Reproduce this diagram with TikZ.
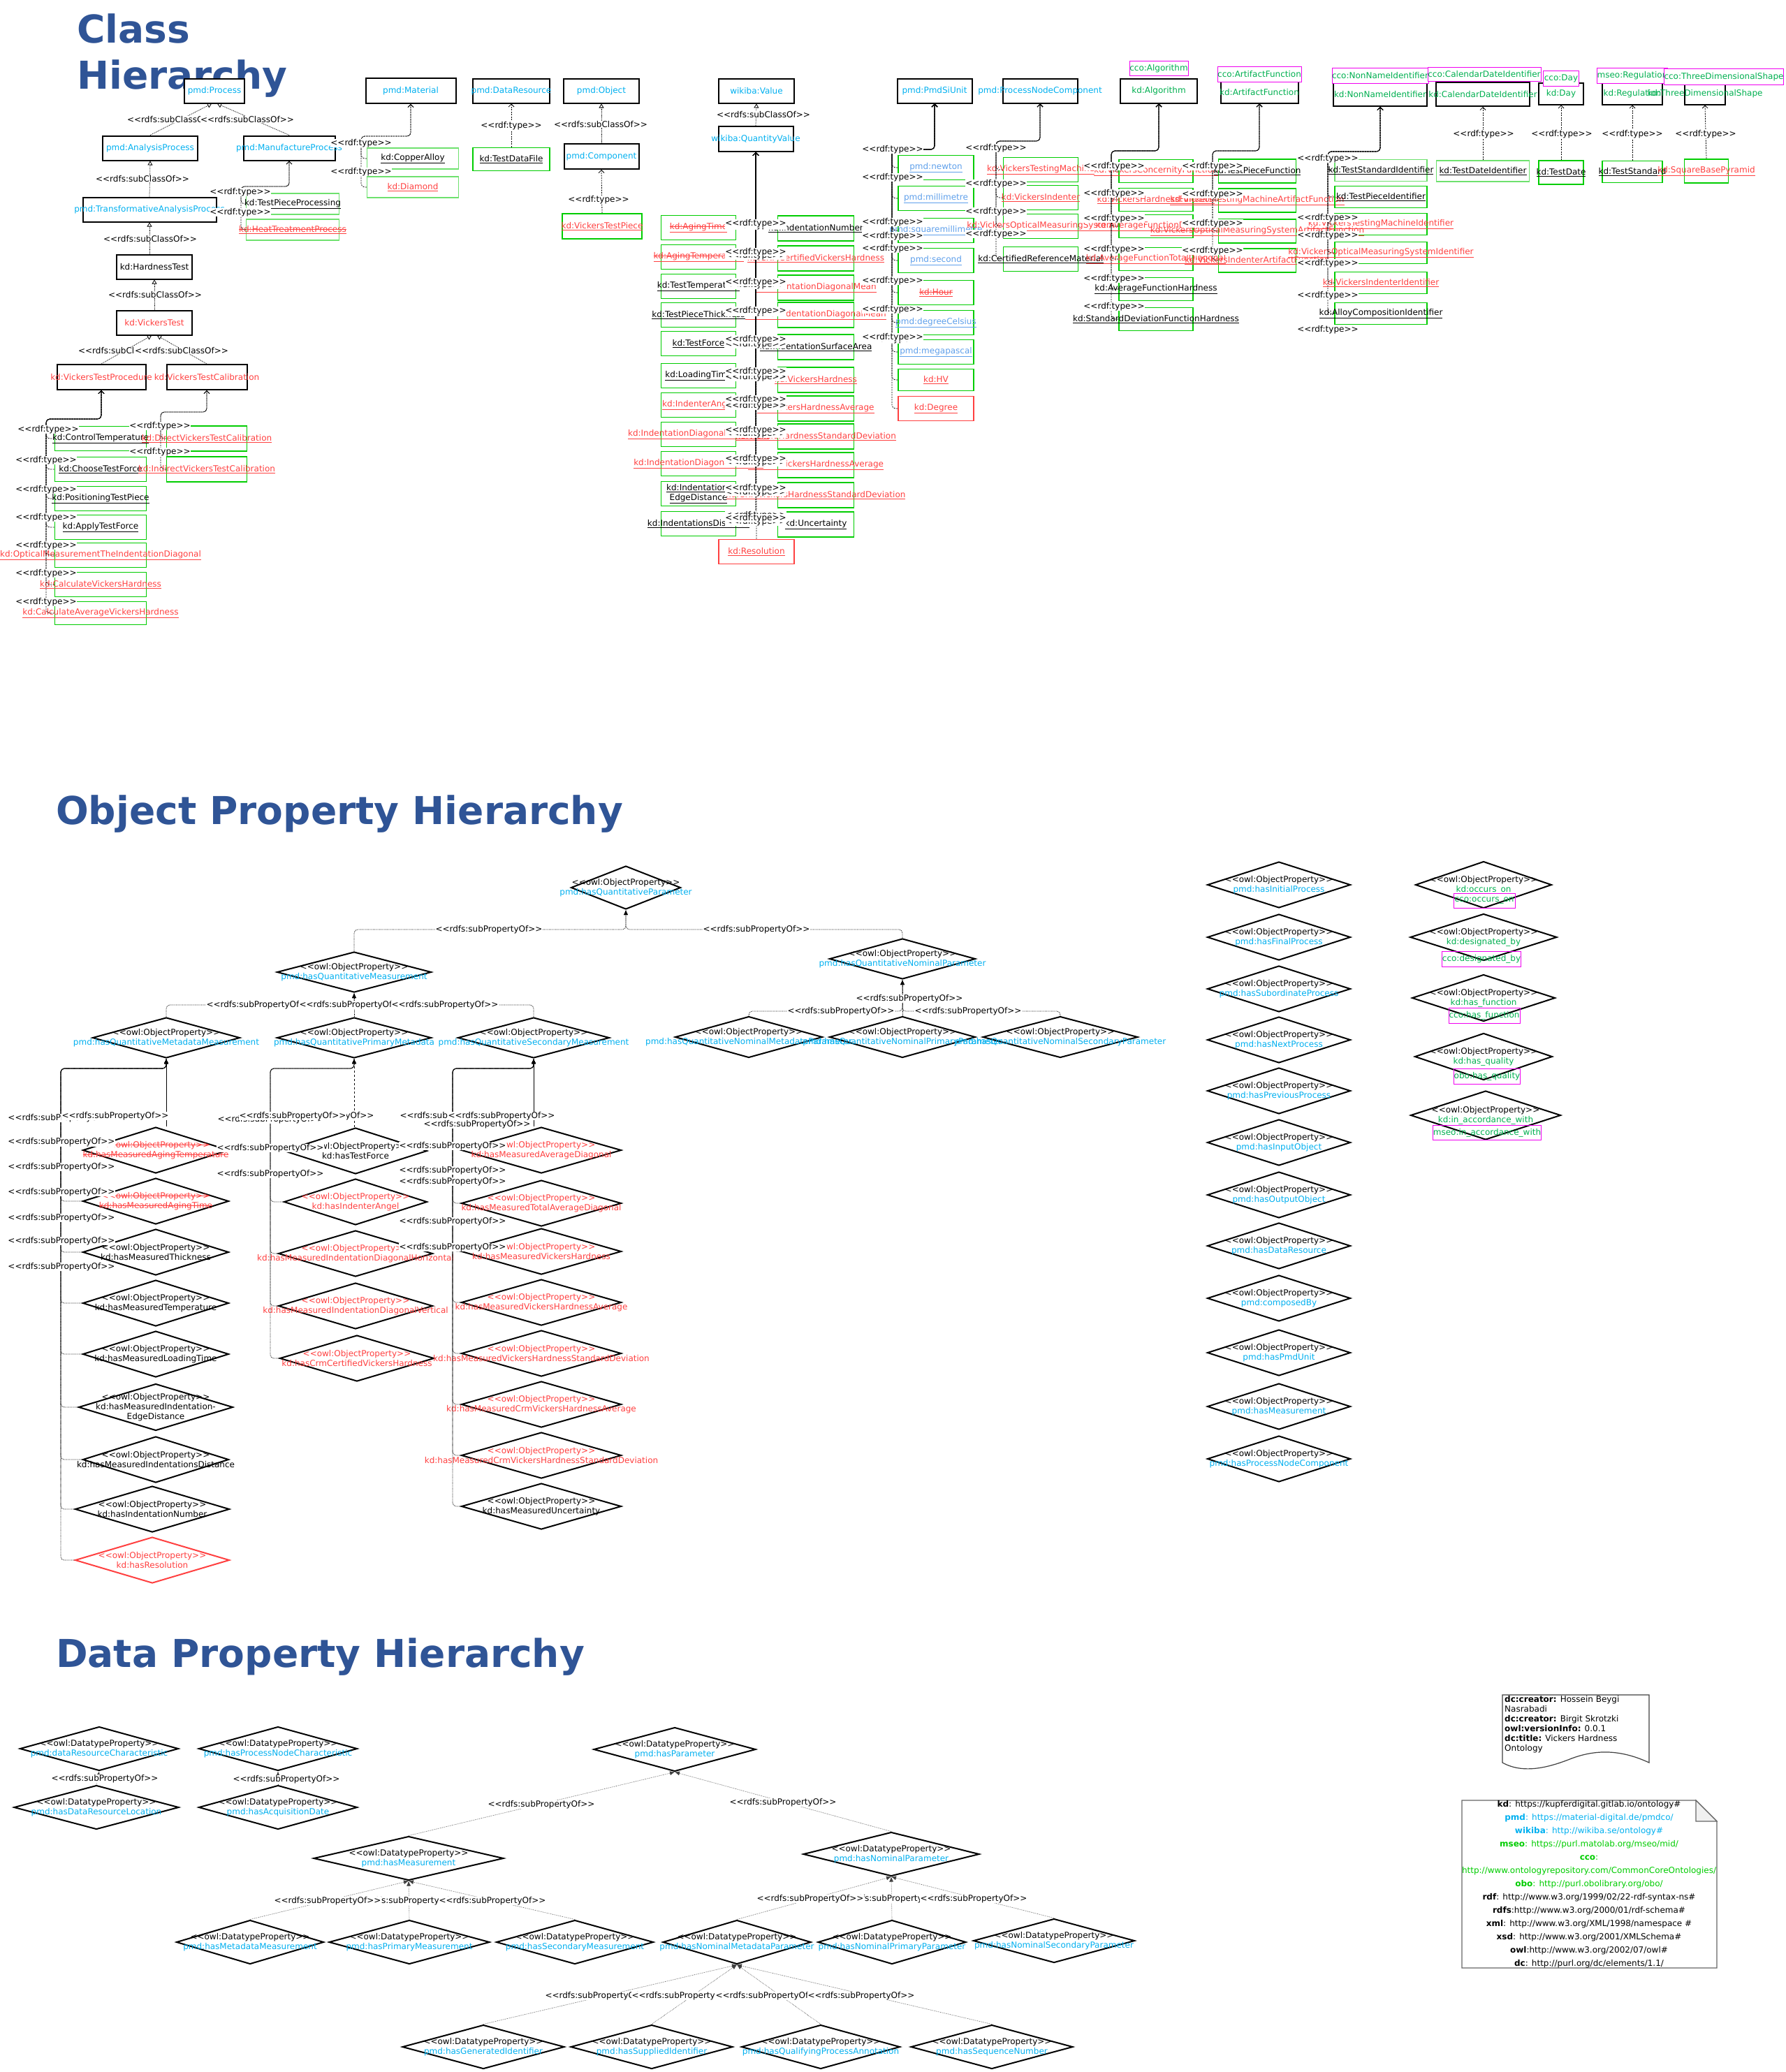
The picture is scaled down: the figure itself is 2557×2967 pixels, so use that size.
\documentclass[tikz,border=0pt]{standalone}
\usepackage{fontspec}
\newfontfamily\dvs{DejaVu Sans}
\usetikzlibrary{arrows.meta,shapes.geometric}
\definecolor{pmdc}{RGB}{0,176,240}
\definecolor{pmdl}{RGB}{95,160,235}
\definecolor{kdr}{RGB}{255,64,64}
\definecolor{grt}{RGB}{0,176,80}
\definecolor{grb}{RGB}{0,205,0}
\definecolor{grl}{RGB}{110,225,110}
\definecolor{mag}{RGB}{240,0,240}
\definecolor{ttl}{RGB}{47,84,150}
\newcommand\st[1]{<\kern0pt<#1>\kern0pt>}
\newcommand\stk[1]{\setbox0\hbox{#1}\rlap{\rule[0.28em]{\wd0}{0.8pt}}\box0}
\newcommand\und[1]{\underline{#1}}
\newcommand\txR[1]{\textcolor{kdr}{#1}}
\newcommand\txC[1]{\textcolor{pmdc}{#1}}
\newcommand\txL[1]{\textcolor{pmdl}{#1}}
\newcommand\txG[1]{\textcolor{grt}{#1}}
\tikzset{
 txt/.style={inner sep=0pt, align=center, font=\dvs\fontsize{12}{14}\selectfont},
 lab/.style={fill=white, inner sep=0.6pt, font=\dvs\fontsize{12}{14}\selectfont},
 cls/.style={draw=black, line width=2pt, fill=white, inner sep=0pt},
 ind/.style={draw=grb, line width=1.8pt, inner sep=0pt},
 indl/.style={draw=grl, line width=1.2pt, inner sep=0pt},
 indr/.style={draw=kdr, line width=1.8pt, inner sep=0pt},
 eqv/.style={draw=mag, line width=1pt, fill=white, inner sep=0pt},
 dmd/.style={shape=diamond, draw=black, line width=2pt, inner sep=0pt},
 sub/.style={densely dotted, line width=0.8pt, -{Triangle[open,length=6pt,width=7pt]}},
 typ/.style={dash pattern=on 2pt off 1.5pt, line width=0.8pt, rounded corners=5pt, -{Straight Barb[length=4pt,width=8pt]}},
 spo/.style={densely dotted, line width=0.8pt, rounded corners=5pt, -{Latex[length=7pt,width=6pt]}},
 dpe/.style={densely dotted, line width=0.6pt, draw=black!75, -{Latex[length=7pt,width=6pt]}},
 ttlf/.style={inner sep=0pt, anchor=base west, text=ttl, font=\dvs\bfseries\fontsize{55}{66}\selectfont},
}
\newcommand\cb[7]{\node[#6,minimum width=#4pt,minimum height=#5pt] (#1) at (#2,#3) {};\node[txt] (#1t) at (#1.center) {#7};}
\newcommand\dm[7]{\node[dmd,#6,minimum width=#4pt,minimum height=#5pt] (#1) at (#2,#3) {};\node[txt] (#1t) at (#1.center) {#7};}
\begin{document}
\begin{tikzpicture}[x=1pt,y=-1pt]
\fill[white] (0,0) rectangle (2557,2967);
\useasboundingbox (0,0) rectangle (2557,2967);
% titles
\node[ttlf] (t1) at (110,61) {Class};
\node[ttlf] (t2) at (110,127) {Hierarchy};
\node[ttlf] (t3) at (80,1180) {Object Property Hierarchy};
\node[ttlf] (t4) at (80,2387) {Data Property Hierarchy};
% ---------------- class hierarchy: classes
\cb{p}{307}{130}{86}{35}{cls}{\txC{pmd:Process}}
\cb{ap}{215}{212}{136}{35}{cls}{\txC{pmd:AnalysisProcess}}
\cb{mp}{414}{212}{131}{35}{cls}{\txC{pmd:ManufactureProcess}}
\cb{tap}{214}{300}{191}{35}{cls}{\txC{pmd:TransformativeAnalysisProcess}}
\cb{ht}{221}{382}{108}{35}{cls}{kd:HardnessTest}
\cb{vt}{221}{462}{108}{35}{cls}{\txR{kd:VickersTest}}
\cb{vtp}{145}{540}{127}{36}{cls}{\txR{kd:VickersTestProcedure}}
\cb{vtc}{296}{540}{115}{36}{cls}{\txR{kd:VickersTestCalibration}}
\cb{mat}{588}{130}{129}{36}{cls}{\txC{pmd:Material}}
\cb{dr}{732}{130}{110}{35}{cls}{\txC{pmd:DataResource}}
\cb{obj}{861}{130}{108}{35}{cls}{\txC{pmd:Object}}
\cb{comp}{861}{224}{107}{36}{cls}{\txC{pmd:Component}}
\cb{wv}{1083}{130}{108}{35}{cls}{\txC{wikiba:Value}}
\cb{wq}{1082}{199}{107}{36}{cls}{\txC{wikiba:QuantityValue}}
\cb{psi}{1338}{130}{107}{35}{cls}{\txC{pmd:PmdSiUnit}}
\cb{pnc}{1489}{130}{107}{35}{cls}{\txC{pmd:ProcessNodeComponent}}
\cb{alg}{1659}{130}{110}{35}{cls}{\txG{kd:Algorithm}}
\cb{af}{1803}{132}{111}{31}{cls}{\txG{kd:ArtifactFunction}}
\cb{nni}{1976}{135}{134}{34}{cls}{\txG{kd:NonNameIdentifier}}
\cb{cdi}{2123}{135}{134}{34}{cls}{\txG{kd:CalendarDateIdentifier}}
\cb{day}{2235}{134}{64}{31}{cls}{\txG{kd:Day}}
\cb{reg}{2337}{134}{86}{31}{cls}{\txG{kd:Regulation}}
\cb{tds}{2441}{134}{58}{31}{cls}{\txG{kd:ThreeDimensionalShape}}
\cb{e1}{1659}{98}{84}{21}{eqv}{\txG{cco:Algorithm}}
\cb{e2}{1803}{106}{120}{22}{eqv}{\txG{cco:ArtifactFunction}}
\cb{e3}{1976}{108}{138}{22}{eqv}{\txG{cco:NonNameIdentifier}}
\cb{e4}{2125}{106}{162}{20}{eqv}{\txG{cco:CalendarDateIdentifier}}
\cb{e5}{2235}{112}{51}{22}{eqv}{\txG{cco:Day}}
\cb{e6}{2337}{108}{101}{22}{eqv}{\txG{mseo:Regulation}}
\cb{e7}{2468}{110}{171}{23}{eqv}{\txG{cco:ThreeDimensionalShape}}
% ---------------- individuals
\cb{ca}{591}{227}{131}{30}{indl}{\und{kd:CopperAlloy}}
\cb{dia}{591}{268}{131}{30}{indl}{\txR{\und{kd:Diamond}}}
\cb{tpp}{419}{292}{133}{30}{indl}{\und{kd:TestPieceProcessing}}
\cb{htp}{419}{329}{133}{30}{indl}{\txR{\und{\stk{kd:HeatTreatmentProcess}}}}
\cb{tdf}{732}{228}{110}{33}{ind}{\und{kd:TestDataFile}}
\cb{vtpc}{862}{324}{114}{36}{ind}{\txR{\und{kd:VickersTestPiece}}}
\cb{L1}{1000}{326}{107}{35}{ind}{\txR{\und{\stk{kd:AgingTime}}}}
\cb{L2}{1000}{368}{107}{35}{ind}{\txR{\und{\stk{kd:AgingTemperature}}}}
\cb{L3}{1000}{410}{107}{35}{ind}{\und{kd:TestTemperature}}
\cb{L4}{1000}{451}{107}{35}{ind}{\und{kd:TestPieceThickness}}
\cb{L5}{1000}{492}{107}{35}{ind}{\und{kd:TestForce}}
\cb{L6}{1000}{538}{107}{35}{ind}{\und{kd:LoadingTime}}
\cb{L7}{1000}{580}{107}{35}{ind}{\txR{\und{kd:IndenterAngel}}}
\cb{L8}{1000}{622}{107}{35}{ind}{\txR{\und{kd:IndentationDiagonalHorizontal}}}
\cb{L9}{1000}{664}{107}{35}{ind}{\txR{\und{kd:IndentationDiagonalVertical}}}
\cb{L10}{1000}{707}{107}{35}{ind}{\und{kd:Indentation-}\\\und{EdgeDistance}}
\cb{L11}{1000}{750}{107}{35}{ind}{\und{kd:IndentationsDistance}}
\cb{R1}{1168}{327}{109}{36}{ind}{\und{kd:IndentationNumber}}
\cb{R2}{1168}{370}{109}{36}{ind}{\txR{\und{kd:CRMCertifiedVickersHardness}}}
\cb{R3}{1168}{412}{109}{36}{ind}{\txR{\und{kd:IndentationDiagonalMean}}}
\cb{R4}{1168}{451}{109}{36}{ind}{\txR{\und{kd:TotalIndentationDiagonalMean}}}
\cb{R5}{1168}{497}{109}{36}{ind}{\und{kd:IndentationSurfaceArea}}
\cb{R6}{1168}{544}{109}{36}{ind}{\txR{\und{kd:VickersHardness}}}
\cb{R7}{1168}{585}{109}{36}{ind}{\txR{\und{kd:VickersHardnessAverage}}}
\cb{R8}{1168}{625}{109}{36}{ind}{\txR{\und{kd:VickersHardnessStandardDeviation}}}
\cb{R9}{1168}{666}{109}{36}{ind}{\txR{\und{kd:CRMVickersHardnessAverage}}}
\cb{R10}{1168}{709}{109}{36}{ind}{\txR{\und{kd:CRMVickersHardnessStandardDeviation}}}
\cb{R11}{1168}{751}{109}{36}{ind}{\und{kd:Uncertainty}}
\cb{res}{1083}{790}{108}{35}{indr}{\txR{\und{kd:Resolution}}}
\cb{U1}{1340}{240}{108}{35}{ind}{\txL{\und{pmd:newton}}}
\cb{U2}{1340}{284}{108}{35}{ind}{\txL{\und{pmd:millimetre}}}
\cb{U3}{1340}{330}{108}{35}{ind}{\txL{\und{pmd:squaremillimetre}}}
\cb{U4}{1340}{373}{108}{35}{ind}{\txL{\und{pmd:second}}}
\cb{U5}{1340}{419}{108}{35}{ind}{\txR{\und{\stk{kd:Hour}}}}
\cb{U6}{1340}{462}{108}{35}{ind}{\txL{\und{pmd:degreeCelsius}}}
\cb{U7}{1340}{504}{108}{35}{ind}{\txL{\und{pmd:megapascal}}}
\cb{U8}{1340}{544}{108}{31}{ind}{\txR{\und{kd:HV}}}
\cb{U9}{1340}{585}{108}{35}{indr}{\txR{\und{kd:Degree}}}
\cb{N1}{1490}{243}{107}{35}{ind}{\txR{\und{kd:VickersTestingMachine}}}
\cb{N2}{1490}{283}{107}{35}{ind}{\txR{\und{kd:VickersIndenter}}}
\cb{N3}{1490}{324}{107}{35}{ind}{\txR{\und{kd:VickersOpticalMeasuringSystem}}}
\cb{N4}{1490}{371}{107}{35}{ind}{\und{kd:CertifiedReferenceMaterial}}
\cb{A1}{1655}{245}{106}{33}{ind}{\txR{\und{kd:VickersConcernityFunction}}}
\cb{A2}{1655}{286}{106}{33}{ind}{\txR{\und{kd:VickersHardnessFunction}}}
\cb{A3}{1655}{324}{106}{33}{ind}{\txR{\und{kd:AverageFunctionDiagonal}}}
\cb{A4}{1655}{371}{106}{33}{ind}{\txR{\und{kd:AverageFunctionTotalDiagonal}}}
\cb{A5}{1655}{414}{106}{33}{ind}{\und{kd:AverageFunctionHardness}}
\cb{A6}{1655}{457}{106}{33}{ind}{\und{kd:StandardDeviationFunctionHardness}}
\cb{F1}{1800}{245}{111}{34}{ind}{\und{kd:TestPieceFunction}}
\cb{F2}{1800}{287}{111}{34}{ind}{\txR{\und{kd:VickersTestingMachineArtifactFunction}}}
\cb{F3}{1800}{331}{111}{34}{ind}{\txR{\und{kd:VickersOpticalMeasuringSystemArtifactFunction}}}
\cb{F4}{1800}{373}{111}{34}{ind}{\txR{\und{kd:VickersIndenterArtifactFunction}}}
\cb{I1}{1977}{244}{132}{31}{indl}{\und{kd:TestStandardIdentifier}}
\cb{I2}{1977}{282}{132}{31}{ind}{\und{kd:TestPieceIdentifier}}
\cb{I3}{1977}{321}{132}{31}{ind}{\txR{\und{kd:VickersTestingMachineIdentifier}}}
\cb{I4}{1977}{362}{132}{31}{ind}{\txR{\und{kd:VickersOpticalMeasuringSystemIdentifier}}}
\cb{I5}{1977}{405}{132}{31}{ind}{\txR{\und{kd:VickersIndenterIdentifier}}}
\cb{I6}{1977}{449}{132}{31}{ind}{\und{kd:AlloyCompositionIdentifier}}
\cb{tdi}{2123}{245}{133}{30}{indl}{\und{kd:TestDateIdentifier}}
\cb{td}{2235}{247}{64}{34}{ind}{\und{kd:TestDate}}
\cb{ts}{2337}{246}{86}{31}{ind}{\und{kd:TestStandard}}
\cb{sbp}{2443}{245}{63}{34}{ind}{\txR{\und{kd:SquareBasePyramid}}}
\cb{C1}{144}{628}{131}{35}{ind}{\und{kd:ControlTemperature}}
\cb{C2}{144}{672}{131}{35}{ind}{\und{kd:ChooseTestForce}}
\cb{C3}{144}{714}{131}{35}{ind}{\und{kd:PositioningTestPiece}}
\cb{C4}{144}{755}{131}{35}{ind}{\und{kd:ApplyTestForce}}
\cb{C5}{144}{795}{131}{35}{ind}{\txR{\und{kd:OpticalMeasurementTheIndentationDiagonal}}}
\cb{C6}{144}{837}{131}{35}{ind}{\txR{\und{kd:CalculateVickersHardness}}}
\cb{C7}{144}{878}{131}{33}{ind}{\txR{\und{kd:CalculateAverageVickersHardness}}}
\cb{D1}{296}{628}{115}{36}{ind}{\txR{\und{kd:DirectVickersTestCalibration}}}
\cb{D2}{296}{672}{115}{36}{ind}{\txR{\und{kd:IndirectVickersTestCalibration}}}
% ---------------- class edges
\draw[sub] (ap.north) -- ([xshift=-4pt]p.south);
\draw[sub] (mp.north) -- ([xshift=4pt]p.south);
\draw[sub] (tap.north) -- (ap.south);
\draw[sub] (tap.south |- ht.north) -- (tap.south);
\draw[sub] (vt.north) -- (ht.south);
\draw[sub] (vtp.north) -- ([xshift=-4pt]vt.south);
\draw[sub] (vtc.north) -- ([xshift=4pt]vt.south);
\draw[typ] (ca.west) -| (517,195) -| (mat.south);
\draw[typ] (dia.west) -| (517,195) -| (mat.south);
\draw[typ] (tpp.west) -| (345,267) -| (mp.south);
\draw[typ] (htp.west) -| (345,267) -| (mp.south);
\draw[typ] (tdf.north) -- (dr.south);
\draw[sub] (comp.north) -- (obj.south);
\draw[typ] (vtpc.north) -- (comp.south);
\draw[sub] (wq.north) -- (wv.south);
\foreach \n in {L1,L2,L3,L4,L5,L6,L7,L8,L9,L10,L11} {\draw[typ] (\n.east) -| (wq.south);}
\foreach \n in {R1,R2,R3,R4,R5,R6,R7,R8,R9,R10,R11} {\draw[typ] (\n.west) -| (wq.south);}
\draw[typ] (res.north) -- (wq.south);
\foreach \n in {U1,U2,U3,U4,U5,U6,U7,U8,U9} {\draw[typ] (\n.west) -| (1277,214) -| (psi.south);}
\foreach \n in {N1,N2,N3,N4} {\draw[typ] (\n.west) -| (1426,202) -| (pnc.south);}
\foreach \n in {A1,A2,A3,A4,A5,A6} {\draw[typ] (\n.west) -| (1591,216) -| (alg.south);}
\foreach \n in {F1,F2,F3,F4} {\draw[typ] (\n.west) -| (1736,216) -| (af.south);}
\foreach \n in {I1,I2,I3,I4,I5,I6} {\draw[typ] (\n.west) -| (1901,217) -| (nni.south);}
\draw[typ] (tdi.north) -- (cdi.south);
\draw[typ] (td.north) -- (day.south);
\draw[typ] (ts.north) -- (reg.south);
\draw[typ] (sbp.north) -- (tds.south);
\foreach \n in {C1,C2,C3,C4,C5,C6,C7} {\draw[typ] (\n.west) -| (66,600) -| (vtp.south);}
\foreach \n in {D1,D2} {\draw[typ] (\n.west) -| (230,590) -| (vtc.south);}
% ---------------- class labels
\node[lab] (k1) at (249,171) {\st{rdfs:subClassOf}};
\node[lab] (k2) at (354,171) {\st{rdfs:subClassOf}};
\node[lab] (k3) at (204,256) {\st{rdfs:subClassOf}};
\node[lab] (k4) at (215,342) {\st{rdfs:subClassOf}};
\node[lab] (k5) at (222,422) {\st{rdfs:subClassOf}};
\node[lab] (k6) at (179,502) {\st{rdfs:subClassOf}};
\node[lab] (k7) at (260,502) {\st{rdfs:subClassOf}};
\node[lab] (k8) at (517,205) {\st{rdf:type}};
\node[lab] (k9) at (517,246) {\st{rdf:type}};
\node[lab] (k10) at (344,275) {\st{rdf:type}};
\node[lab] (k11) at (344,304) {\st{rdf:type}};
\node[lab] (k12) at (732,180) {\st{rdf:type}};
\node[lab] (k13) at (860,178) {\st{rdfs:subClassOf}};
\node[lab] (k14) at (857,286) {\st{rdf:type}};
\node[lab] (k15) at (1093,164) {\st{rdfs:subClassOf}};
\foreach \y [count=\i] in {323,366,408,447,493,540,581,621,662,705,747,738} {\node[lab] (kr\i) at (1082,\y) {\st{rdf:type}};}
\foreach \y [count=\i] in {320,361,404,445,486,532,572,616,657,699,742} {\node[lab] (kl\i) at (1082,\y) {\st{rdf:type}};}
\foreach \y [count=\i] in {214,254,318,338,356,402,443,486,483} {\node[lab] (ku\i) at (1278,\y) {\st{rdf:type}};}
\foreach \y [count=\i] in {212,263,303,335} {\node[lab] (kn\i) at (1426,\y) {\st{rdf:type}};}
\foreach \y [count=\i] in {238,277,313,357,399,439} {\node[lab] (ka\i) at (1595,\y) {\st{rdf:type}};}
\foreach \y [count=\i] in {238,278,320,359} {\node[lab] (kf\i) at (1736,\y) {\st{rdf:type}};}
\foreach \y [count=\i] in {227,312,337,377,423,472} {\node[lab] (ki\i) at (1901,\y) {\st{rdf:type}};}
\foreach \x [count=\i] in {2124,2236,2337,2442} {\node[lab] (kt\i) at (\x,192) {\st{rdf:type}};}
\node[lab] (kc1) at (69,615) {\st{rdf:type}};
\foreach \y [count=\i] in {659,701,741,781,821,862} {\node[lab] (kc\i x) at (66,\y) {\st{rdf:type}};}
\node[lab] (kd1) at (229,610) {\st{rdf:type}};
\node[lab] (kd2) at (229,647) {\st{rdf:type}};
% ---------------- object properties
\dm{qp}{896}{1271}{157}{62}{}{\st{owl:ObjectProperty}\\\txC{pmd:hasQuantitativeParameter}}
\dm{qm}{507}{1392}{221}{58}{}{\st{owl:ObjectProperty}\\\txC{pmd:hasQuantitativeMeasurement}}
\dm{qnp}{1292}{1373}{209}{58}{}{\st{owl:ObjectProperty}\\\txC{pmd:hasQuantitativeNominalParameter}}
\dm{qmm}{238}{1486}{211}{58}{}{\st{owl:ObjectProperty}\\\txC{pmd:hasQuantitativeMetadataMeasurement}}
\dm{qpm}{507}{1486}{221}{58}{}{\st{owl:ObjectProperty}\\\txC{pmd:hasQuantitativePrimaryMetadata}}
\dm{qsm}{764}{1486}{217}{58}{}{\st{owl:ObjectProperty}\\\txC{pmd:hasQuantitativeSecondaryMeasurement}}
\dm{qnm}{1072}{1485}{211}{59}{}{\st{owl:ObjectProperty}\\\txC{pmd:hasQuantitativeNominalMetadataParameter}}
\dm{qnq}{1292}{1485}{209}{59}{}{\st{owl:ObjectProperty}\\\txC{pmd:hasQuantitativeNominalPrimaryParameter}}
\dm{qns}{1518}{1485}{222}{59}{}{\st{owl:ObjectProperty}\\\txC{pmd:hasQuantitativeNominalSecondaryParameter}}
\dm{o1}{223}{1647}{209}{66}{}{\txR{\stk{\st{owl:ObjectProperty}}}\\\txR{\stk{kd:hasMeasuredAgingTemperature}}}
\dm{o2}{223}{1720}{209}{66}{}{\txR{\stk{\st{owl:ObjectProperty}}}\\\txR{\stk{kd:hasMeasuredAgingTime}}}
\dm{o3}{223}{1793}{209}{66}{}{\st{owl:ObjectProperty}\\kd:hasMeasuredThickness}
\dm{o4}{223}{1866}{209}{66}{}{\st{owl:ObjectProperty}\\kd:hasMeasuredTemperature}
\dm{o5}{223}{1939}{209}{66}{}{\st{owl:ObjectProperty}\\kd:hasMeasuredLoadingTime}
\dm{o6}{223}{2015}{221}{67}{}{\st{owl:ObjectProperty}\\kd:hasMeasuredIndentation-\\EdgeDistance}
\dm{o7}{223}{2090}{209}{66}{}{\st{owl:ObjectProperty}\\kd:hasMeasuredIndentationsDistance}
\dm{o8}{218}{2161}{221}{66}{}{\st{owl:ObjectProperty}\\kd:hasIndentationNumber}
\dm{o9}{218}{2234}{221}{66}{draw=kdr}{\txR{\st{owl:ObjectProperty}}\\\txR{kd:hasResolution}}
\dm{m1}{509}{1648}{205}{66}{}{\st{owl:ObjectProperty}\\kd:hasTestForce}
\dm{m2}{509}{1721}{205}{66}{}{\txR{\st{owl:ObjectProperty}}\\\txR{kd:hasIndenterAngel}}
\dm{m3}{509}{1795}{221}{66}{}{\txR{\st{owl:ObjectProperty}}\\\txR{kd:hasMeasuredIndentationDiagonalHorizontal}}
\dm{m4}{509}{1870}{221}{66}{}{\txR{\st{owl:ObjectProperty}}\\\txR{kd:hasMeasuredIndentationDiagonalVertical}}
\dm{m5}{511}{1945}{221}{66}{}{\txR{\st{owl:ObjectProperty}}\\\txR{kd:hasCrmCertifiedVickersHardness}}
\dm{r1}{775}{1647}{229}{66}{}{\txR{\st{owl:ObjectProperty}}\\\txR{kd:hasMeasuredAverageDiagonal}}
\dm{r2}{775}{1723}{229}{66}{}{\txR{\st{owl:ObjectProperty}}\\\txR{kd:hasMeasuredTotalAverageDiagonal}}
\dm{r3}{775}{1792}{229}{66}{}{\txR{\st{owl:ObjectProperty}}\\\txR{kd:hasMeasuredVickersHardness}}
\dm{r4}{775}{1865}{229}{66}{}{\txR{\st{owl:ObjectProperty}}\\\txR{kd:hasMeasuredVickersHardnessAverage}}
\dm{r5}{775}{1938}{229}{66}{}{\txR{\st{owl:ObjectProperty}}\\\txR{kd:hasMeasuredVickersHardnessStandardDeviation}}
\dm{r6}{775}{2011}{229}{66}{}{\txR{\st{owl:ObjectProperty}}\\\txR{kd:hasMeasuredCrmVickersHardnessAverage}}
\dm{r7}{775}{2084}{229}{66}{}{\txR{\st{owl:ObjectProperty}}\\\txR{kd:hasMeasuredCrmVickersHardnessStandardDeviation}}
\dm{r8}{775}{2157}{229}{66}{}{\st{owl:ObjectProperty}\\kd:hasMeasuredUncertainty}
\dm{pa1}{1831}{1267}{205}{66}{}{\st{owl:ObjectProperty}\\\txC{pmd:hasInitialProcess}}
\dm{pa2}{1831}{1342}{205}{66}{}{\st{owl:ObjectProperty}\\\txC{pmd:hasFinalProcess}}
\dm{pa3}{1831}{1416}{205}{66}{}{\st{owl:ObjectProperty}\\\txC{pmd:hasSubordinateProcess}}
\dm{pa4}{1831}{1489}{205}{66}{}{\st{owl:ObjectProperty}\\\txC{pmd:hasNextProcess}}
\dm{pa5}{1831}{1562}{205}{66}{}{\st{owl:ObjectProperty}\\\txC{pmd:hasPreviousProcess}}
\dm{pa6}{1831}{1636}{205}{66}{}{\st{owl:ObjectProperty}\\\txC{pmd:hasInputObject}}
\dm{pa7}{1831}{1711}{205}{66}{}{\st{owl:ObjectProperty}\\\txC{pmd:hasOutputObject}}
\dm{pa8}{1831}{1784}{205}{66}{}{\st{owl:ObjectProperty}\\\txC{pmd:hasDataResource}}
\dm{pa9}{1831}{1859}{205}{66}{}{\st{owl:ObjectProperty}\\\txC{pmd:composedBy}}
\dm{pa10}{1831}{1937}{205}{66}{}{\st{owl:ObjectProperty}\\\txC{pmd:hasPmdUnit}}
\dm{pa11}{1831}{2014}{205}{66}{}{\st{owl:ObjectProperty}\\\txC{pmd:hasMeasurement}}
\dm{pa12}{1831}{2089}{205}{66}{}{\st{owl:ObjectProperty}\\\txC{pmd:hasProcessNodeComponent}}
\dm{pb1}{2124}{1267}{195}{67}{}{\st{owl:ObjectProperty}\\\txG{kd:occurs\_on}}
\dm{pb2}{2124}{1342}{210}{67}{}{\st{owl:ObjectProperty}\\\txG{kd:designated\_by}}
\dm{pb3}{2124}{1429}{205}{67}{}{\st{owl:ObjectProperty}\\\txG{kd:has\_function}}
\dm{pb4}{2124}{1513}{197}{67}{}{\st{owl:ObjectProperty}\\\txG{kd:has\_quality}}
\dm{pb5}{2127}{1597}{215}{70}{}{\st{owl:ObjectProperty}\\\txG{kd:in\_accordance\_with}}
\cb{pb1e}{2125}{1290}{88}{21}{eqv,fill=none}{\txG{cco:occurs\_on}}
\cb{pb2e}{2121}{1373}{113}{22}{eqv,fill=none}{\txG{cco:designated\_by}}
\cb{pb3e}{2125}{1454}{102}{22}{eqv,fill=none}{\txG{cco:has\_function}}
\cb{pb4e}{2129}{1541}{95}{22}{eqv,fill=none}{\txG{obo:has\_quality}}
\cb{pb5e}{2129}{1622}{155}{21}{eqv,fill=none}{\txG{mseo:in\_accordance\_with}}
% op edges
\draw[spo] (qm.north) |- (700,1331) -| (qp.south);
\draw[spo] (qnp.north) |- (1083,1331) -| (qp.south);
\draw[spo] (qmm.north) |- (372,1439) -| (qm.south);
\draw[spo] (qpm.north) -- (qm.south);
\draw[spo] (qsm.north) |- (637,1439) -| (qm.south);
\draw[spo] (qnm.north) |- (1200,1448) -| (qnp.south);
\draw[spo] (qnq.north) -- (qnp.south);
\draw[spo] (qns.north) |- (1390,1448) -| (qnp.south);
\draw[spo,solid] (o1.north -| qmm.south) -- (qmm.south);
\foreach \n in {o2,o3,o4,o5,o6,o7,o8,o9} {\draw[spo] (\n.west) -| (87,1530) -| (qmm.south);}
\draw[spo,dashed] (m1.north -| qpm.south) -- (qpm.south);
\foreach \n in {m2,m3,m4,m5} {\draw[spo] (\n.west) -| (387,1530) -| (qpm.south);}
\draw[spo,solid] (r1.north -| qsm.south) -- (qsm.south);
\foreach \n in {r2,r3,r4,r5,r6,r7,r8} {\draw[spo] (\n.west) -| (648,1530) -| (qsm.south);}
% op labels
\node[lab] (j1) at (700,1331) {\st{rdfs:subPropertyOf}};
\node[lab] (j2) at (1083,1331) {\st{rdfs:subPropertyOf}};
\node[lab] (j3) at (372,1439) {\st{rdfs:subPropertyOf}};
\node[lab] (j4) at (505,1439) {\st{rdfs:subPropertyOf}};
\node[lab] (j5) at (637,1439) {\st{rdfs:subPropertyOf}};
\node[lab] (j6) at (1302,1430) {\st{rdfs:subPropertyOf}};
\node[lab] (j7) at (1204,1448) {\st{rdfs:subPropertyOf}};
\node[lab] (j8) at (1386,1448) {\st{rdfs:subPropertyOf}};
\foreach \y [count=\i] in {1601,1636,1635,1671,1707,1744,1777,1814} {\node[lab] (jl\i) at (88,\y) {\st{rdfs:subPropertyOf}};}
\node[lab] (jl9) at (165,1598) {\st{rdfs:subPropertyOf}};
\node[lab] (jm1) at (388,1603) {\st{rdfs:subPropertyOf}};
\node[lab] (jm2) at (459,1598) {\st{rdfs:subPropertyOf}};
\node[lab] (jm3) at (419,1598) {\st{rdfs:subPropertyOf}};
\node[lab] (jm4) at (387,1644) {\st{rdfs:subPropertyOf}};
\node[lab] (jm5) at (387,1681) {\st{rdfs:subPropertyOf}};
\node[lab] (jr1) at (649,1598) {\st{rdfs:subPropertyOf}};
\node[lab] (jr2) at (718,1598) {\st{rdfs:subPropertyOf}};
\node[lab] (jr3) at (683,1610) {\st{rdfs:subPropertyOf}};
\foreach \y [count=\i] in {1641,1676,1692,1749,1786} {\node[lab] (jr\i x) at (648,\y) {\st{rdfs:subPropertyOf}};}
% ---------------- data properties
\dm{drc}{142}{2504}{227}{63}{}{\st{owl:DatatypeProperty}\\\txC{pmd:dataResourceCharacteristic}}
\dm{drl}{138}{2588}{236}{63}{}{\st{owl:DatatypeProperty}\\\txC{pmd:hasDataResourceLocation}}
\dm{dpn}{398}{2504}{227}{63}{}{\st{owl:DatatypeProperty}\\\txC{pmd:hasProcessNodeCharacteristic}}
\dm{dad}{398}{2588}{227}{63}{}{\st{owl:DatatypeProperty}\\\txC{pmd:hasAcquisitionDate}}
\dm{dhp}{966}{2505}{232}{63}{}{\st{owl:DatatypeProperty}\\\txC{pmd:hasParameter}}
\dm{dhm}{585}{2661}{272}{63}{}{\st{owl:DatatypeProperty}\\\txC{pmd:hasMeasurement}}
\dm{dnp}{1276}{2655}{252}{63}{}{\st{owl:DatatypeProperty}\\\txC{pmd:hasNominalParameter}}
\dm{dmm}{358}{2781}{211}{63}{}{\st{owl:DatatypeProperty}\\\txC{pmd:hasMetadataMeasurement}}
\dm{dpm}{586}{2781}{230}{63}{}{\st{owl:DatatypeProperty}\\\txC{pmd:hasPrimaryMeasurement}}
\dm{dsm}{823}{2781}{225}{63}{}{\st{owl:DatatypeProperty}\\\txC{pmd:hasSecondaryMeasurement}}
\dm{dnm}{1055}{2781}{212}{63}{}{\st{owl:DatatypeProperty}\\\txC{pmd:hasNominalMetadataParameter}}
\dm{dnq}{1277}{2781}{212}{63}{}{\st{owl:DatatypeProperty}\\\txC{pmd:hasNominalPrimaryParameter}}
\dm{dns}{1509}{2779}{231}{63}{}{\st{owl:DatatypeProperty}\\\txC{pmd:hasNominalSecondaryParameter}}
\dm{dgi}{692}{2931}{232}{63}{}{\st{owl:DatatypeProperty}\\\txC{pmd:hasGeneratedIdentifier}}
\dm{dsi}{933}{2931}{232}{63}{}{\st{owl:DatatypeProperty}\\\txC{pmd:hasSuppliedIdentifier}}
\dm{dqa}{1175}{2931}{227}{63}{}{\st{owl:DatatypeProperty}\\\txC{pmd:hasQualifyingProcessAnnotation}}
\dm{dsn}{1420}{2931}{232}{63}{}{\st{owl:DatatypeProperty}\\\txC{pmd:hasSequenceNumber}}
\draw[dpe] (drl.north) -- (drc.south);
\draw[dpe] (dad.north) -- (dpn.south);
\draw[dpe] (dhm.north) -- (dhp.south);
\draw[dpe] (dnp.north) -- (dhp.south);
\foreach \n in {dmm,dpm,dsm} {\draw[dpe] (\n.north) -- (dhm.south);}
\foreach \n in {dnm,dnq,dns} {\draw[dpe] (\n.north) -- (dnp.south);}
\foreach \n in {dgi,dsi,dqa,dsn} {\draw[dpe] (\n.north) -- (dnm.south);}
\node[lab] (h1) at (150,2547) {\st{rdfs:subPropertyOf}};
\node[lab] (h2) at (410,2548) {\st{rdfs:subPropertyOf}};
\node[lab] (h3) at (775,2584) {\st{rdfs:subPropertyOf}};
\node[lab] (h4) at (1121,2581) {\st{rdfs:subPropertyOf}};
\node[lab] (h5) at (586,2722) {\st{rdfs:subPropertyOf}};
\node[lab] (h6) at (469,2722) {\st{rdfs:subPropertyOf}};
\node[lab] (h7) at (705,2722) {\st{rdfs:subPropertyOf}};
\node[lab] (h8) at (1278,2719) {\st{rdfs:subPropertyOf}};
\node[lab] (h9) at (1160,2719) {\st{rdfs:subPropertyOf}};
\node[lab] (h10) at (1394,2719) {\st{rdfs:subPropertyOf}};
\node[lab] (h11) at (857,2858) {\st{rdfs:subPropertyOf}};
\node[lab] (h12) at (981,2858) {\st{rdfs:subPropertyOf}};
\node[lab] (h13) at (1101,2858) {\st{rdfs:subPropertyOf}};
\node[lab] (h14) at (1233,2858) {\st{rdfs:subPropertyOf}};
% ---------------- legend
\draw[line width=1.2pt, draw=black!75, fill=white] (2151,2524) -- (2151,2427) -- (2361,2427) -- (2361,2524) .. controls (2320,2505) and (2285,2505) .. (2250,2518) .. controls (2215,2532) and (2180,2540) .. (2151,2524) -- cycle;
\node[anchor=north west, inner sep=0pt, align=left, font=\dvs\fontsize{12}{14}\selectfont] (meta) at (2154,2428) {\textbf{dc:creator:} Hossein Beygi\\Nasrabadi\\\textbf{dc:creator:} Birgit Skrotzki\\\textbf{owl:versionInfo:} 0.0.1\\\textbf{dc:title:} Vickers Hardness\\Ontology};
\draw[line width=1.2pt, draw=black!60, fill=white] (2093,2578) -- (2428,2578) -- (2458,2608) -- (2458,2818) -- (2093,2818) -- cycle;
\draw[line width=1.2pt, draw=black!60, fill=black!6] (2428,2578) -- (2428,2608) -- (2458,2608) -- cycle;
\node[anchor=north, inner sep=0pt, align=center, font=\dvs\fontsize{12}{19}\selectfont] (ns) at (2275,2578) {\textbf{kd}: https://kupferdigital.gitlab.io/ontology\#\\
\textcolor{pmdc}{\textbf{pmd}: https://material-digital.de/pmdco/}\\
\textcolor{pmdc}{\textbf{wikiba}: http://wikiba.se/ontology\#}\\
\textcolor{grb}{\textbf{mseo}: https://purl.matolab.org/mseo/mid/}\\
\textcolor{grb}{\textbf{cco}:}\\
\textcolor{grb}{http://www.ontologyrepository.com/CommonCoreOntologies/}\\
\textcolor{grb}{\textbf{obo}: http://purl.obolibrary.org/obo/}\\
\textbf{rdf}: http://www.w3.org/1999/02/22-rdf-syntax-ns\#\\
\textbf{rdfs}:http://www.w3.org/2000/01/rdf-schema\#\\
\textbf{xml}: http://www.w3.org/XML/1998/namespace \#\\
\textbf{xsd}: http://www.w3.org/2001/XMLSchema\#\\
\textbf{owl}:http://www.w3.org/2002/07/owl\#\\
\textbf{dc}: http://purl.org/dc/elements/1.1/};
\end{tikzpicture}
\end{document}
